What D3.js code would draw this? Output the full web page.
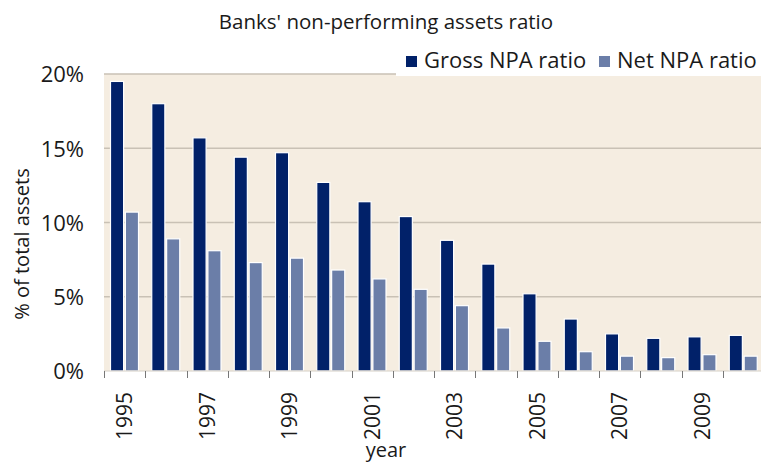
<!DOCTYPE html>
<html>
<head>
<meta charset="utf-8">
<script src="https://cdn.jsdelivr.net/npm/d3@7"></script>
<style>
  body { margin: 0; background: #fff; }
  svg { display: block; font-family: "Open Sans", "Noto Sans", sans-serif; }
</style>
</head>
<body>
<div id="chart"></div>
<script>
// data
var years = [1995, 1996, 1997, 1998, 1999, 2000, 2001, 2002, 2003, 2004, 2005, 2006, 2007, 2008, 2009, 2010];
var gross = [19.5, 18.0, 15.7, 14.4, 14.7, 12.7, 11.4, 10.4, 8.8, 7.2, 5.2, 3.5, 2.5, 2.2, 2.3, 2.4];
var net = [10.7, 8.9, 8.1, 7.3, 7.6, 6.8, 6.2, 5.5, 4.4, 2.9, 2.0, 1.3, 1.0, 0.9, 1.1, 1.0];
var yTicks = [0, 5, 10, 15, 20];
var seriesNames = ["Gross NPA ratio", "Net NPA ratio"];

var width = 761,
    height = 463,
    margin = {top: 74, right: -3, bottom: 92, left: 104};

var colour = d3.scaleOrdinal().domain(seriesNames).range(["#012169", "#6b7ea8"]);

var svg = d3.select("#chart").append("svg")
    .attr("width", width)
    .attr("height", height);

var x = d3.scaleBand()
    .domain(years)
    .range([margin.left, width - margin.right]);

var xInner = d3.scaleBand()
    .domain(seriesNames)
    .range([6.5, 34.5])
    .paddingInner(0.12);

var y = d3.scaleLinear()
    .domain([0, 20])
    .range([height - margin.bottom, margin.top]);

// plot background
svg.append("rect")
    .attr("x", margin.left)
    .attr("y", y(20))
    .attr("width", width - margin.right - margin.left)
    .attr("height", y(0) - y(20))
    .attr("fill", "#f5ede1");

// gridlines
svg.append("g").selectAll("line")
    .data(yTicks.filter(function (d) { return d > 0; }))
    .enter().append("line")
    .attr("x1", margin.left)
    .attr("x2", width - margin.right)
    .attr("y1", function (d) { return y(d); })
    .attr("y2", function (d) { return y(d); })
    .attr("stroke", "#c9c1b5")
    .attr("stroke-width", 1.5);

// y labels
svg.append("g").selectAll("text")
    .data(yTicks)
    .enter().append("text")
    .attr("x", 84)
    .attr("y", function (d) { return y(d); })
    .attr("dy", "0.38em")
    .attr("text-anchor", "end")
    .attr("font-size", 22)
    .attr("fill", "#1a1a1a")
    .text(function (d) { return d + "%"; });

// bars
var rows = years.map(function (yr, i) {
    return {year: yr, values: [
        {name: seriesNames[0], value: gross[i]},
        {name: seriesNames[1], value: net[i]}
    ]};
});

svg.append("g").selectAll("g")
    .data(rows)
    .enter().append("g")
    .attr("transform", function (d) { return "translate(" + x(d.year) + ",0)"; })
    .selectAll("rect")
    .data(function (d) { return d.values; })
    .enter().append("rect")
    .attr("x", function (d) { return xInner(d.name); })
    .attr("width", xInner.bandwidth())
    .attr("y", function (d) { return y(d.value); })
    .attr("height", function (d) { return y(0) - y(d.value); })
    .attr("fill", function (d) { return colour(d.name); })
    .attr("stroke", "#fff")
    .attr("stroke-width", 1.2);

// x axis line and ticks at band edges
svg.append("line")
    .attr("x1", margin.left)
    .attr("x2", width - margin.right)
    .attr("y1", y(0))
    .attr("y2", y(0))
    .attr("stroke", "#d6d0c6")
    .attr("stroke-width", 1);

svg.append("g").selectAll("line")
    .data(years)
    .enter().append("line")
    .attr("x1", function (d) { return Math.round(x(d)) + 0.5; })
    .attr("x2", function (d) { return Math.round(x(d)) + 0.5; })
    .attr("y1", y(0))
    .attr("y2", y(0) + 7)
    .attr("stroke", "#777")
    .attr("stroke-width", 1);

// x labels, every other year, rotated
svg.append("g").selectAll("text")
    .data(years.filter(function (d, i) { return i % 2 === 0; }))
    .enter().append("text")
    .attr("transform", function (d) {
        return "translate(" + (x(d) + x.bandwidth() / 2) + "," + (y(0) + 21) + ") rotate(-90)";
    })
    .attr("dy", "0.36em")
    .attr("text-anchor", "end")
    .attr("font-size", 21)
    .attr("fill", "#1a1a1a")
    .text(function (d) { return d; });

// axis titles
svg.append("text")
    .attr("x", 386)
    .attr("y", 457)
    .attr("text-anchor", "middle")
    .attr("font-size", 20)
    .attr("fill", "#1a1a1a")
    .text("year");

svg.append("text")
    .attr("transform", "translate(29,244) rotate(-90)")
    .attr("text-anchor", "middle")
    .attr("font-size", 20)
    .attr("fill", "#1a1a1a")
    .text("% of total assets");

// title
svg.append("text")
    .attr("x", 386)
    .attr("y", 29)
    .attr("text-anchor", "middle")
    .attr("font-size", 20.5)
    .attr("fill", "#1a1a1a")
    .text("Banks' non-performing assets ratio");

// legend with white backing box over the plot top
svg.append("rect")
    .attr("x", 396)
    .attr("y", 44)
    .attr("width", width - 396)
    .attr("height", 32)
    .attr("fill", "#fff");

var legendX = [406, 599];
var legend = svg.append("g").selectAll("g")
    .data(seriesNames)
    .enter().append("g")
    .attr("transform", function (d, i) { return "translate(" + legendX[i] + ",56)"; });

legend.append("rect")
    .attr("width", 11)
    .attr("height", 11)
    .attr("fill", function (d) { return colour(d); });

legend.append("text")
    .attr("x", 18)
    .attr("y", 12)
    .attr("font-size", 22)
    .attr("fill", "#1a1a1a")
    .text(function (d) { return d; });
</script>
</body>
</html>
